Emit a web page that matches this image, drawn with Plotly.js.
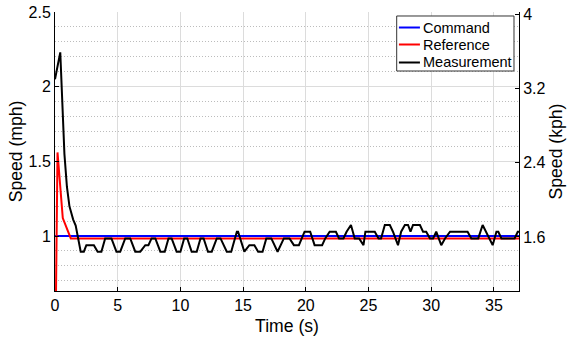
<!DOCTYPE html>
<html>
<head>
<meta charset="utf-8">
<script src="https://cdn.plot.ly/plotly-3.0.1.min.js"></script>
<style>
  html, body { margin: 0; padding: 0; background: #ffffff; }
  #chart { width: 570px; height: 341px; }
</style>
</head>
<body>
<div id="chart"></div>
<script>
// Speed step response: commanded, reference-filtered and measured speed (mph),
// with a secondary kph scale on the right.
const MPH_TO_KPH = 1.609344;

const commandTime  = [0, 37];
const commandSpeed = [1, 1];

const referenceTime  = [0, 0.2, 0.62, 1.26, 37];
const referenceSpeed = [0, 1.56, 1.12, 0.984, 0.984];

const measurementTime = [
  0, 0.42, 0.75, 0.95, 1.15, 1.45, 1.65, 2.05, 2.3, 2.5,
  3.1, 3.4, 3.7, 4.0, 4.5, 4.9, 5.2, 5.6, 6.0, 6.4,
  6.8, 7.2, 7.45, 7.7, 8.0, 8.4, 8.75, 9.05, 9.3, 9.7,
  10.0, 10.3, 10.55, 10.9, 11.3, 11.6, 11.85, 12.2, 12.5, 12.9,
  13.2, 13.7, 14.05, 14.5, 14.6, 15.1, 15.5, 15.9, 16.2, 16.55,
  16.85, 17.25, 17.75, 18.25, 18.7, 19.05, 19.45, 19.9, 20.35, 20.7,
  21.3, 21.55, 21.9, 22.4, 22.65, 23.0, 23.25, 23.6, 23.9, 24.25,
  24.6, 24.75, 25.5, 25.8, 26.0, 26.3, 26.7, 26.95, 27.35, 27.6,
  27.9, 28.15, 28.35, 28.55, 29.1, 29.35, 29.6, 29.9, 30.15, 30.4,
  30.8, 31.1, 31.5, 32.9, 33.2, 33.75, 34.1, 34.35, 34.9, 35.2,
  35.35, 35.6, 36.65, 36.9, 37.0
];
const measurementSpeed = [
  2.05, 2.23, 1.55, 1.33, 1.2, 1.11, 1.07, 0.895, 0.895, 0.939,
  0.939, 0.895, 0.895, 0.984, 0.984, 0.895, 0.895, 0.984, 0.984, 0.895,
  0.895, 0.939, 0.939, 0.984, 0.984, 0.895, 0.895, 0.984, 0.984, 0.895,
  0.895, 0.984, 0.984, 0.895, 0.895, 0.984, 0.984, 0.895, 0.895, 0.984,
  0.984, 0.895, 0.895, 1.029, 1.029, 0.895, 0.939, 0.939, 0.895, 0.895,
  0.984, 0.984, 0.895, 0.984, 0.984, 0.939, 0.939, 1.029, 1.029, 0.939,
  0.939, 0.984, 1.029, 1.029, 0.984, 0.984, 1.029, 1.074, 0.984, 0.984,
  0.939, 1.029, 1.029, 0.984, 0.984, 1.074, 1.074, 1.029, 0.939, 1.029,
  1.074, 1.074, 1.029, 1.074, 1.074, 1.029, 1.029, 0.984, 0.984, 1.029,
  0.939, 0.984, 1.029, 1.029, 0.984, 0.984, 1.074, 1.029, 0.939, 1.029,
  1.029, 0.984, 0.984, 1.029, 1.029
];

const timeTicks = [0, 5, 10, 15, 20, 25, 30, 35];
const mphRange  = [0.632, 2.5];
const kphTicks  = [1.6, 2.4, 3.2, 4];
const kphLabels = ['1.6', '2.4', '3.2', '4'];

const FONT = 'Liberation Sans, Arial, Helvetica, sans-serif';

const series = [
  { name: 'Command',     x: commandTime,     y: commandSpeed,     color: '#0000ff' },
  { name: 'Reference',   x: referenceTime,   y: referenceSpeed,   color: '#ff0000' },
  { name: 'Measurement', x: measurementTime, y: measurementSpeed, color: '#000000' }
];

const traces = series.map(s => ({
  name: s.name, x: s.x, y: s.y, type: 'scatter', mode: 'lines',
  line: { color: s.color, width: 2 }, showlegend: false
}));

// Command expressed in kph on the right-hand axis (transparent; it carries the kph scale)
traces.push({
  name: 'Command (kph)', x: commandTime, y: commandSpeed.map(v => v * MPH_TO_KPH),
  yaxis: 'y2', type: 'scatter', mode: 'lines',
  line: { color: 'rgba(0,0,0,0)', width: 0 }, showlegend: false, hoverinfo: 'skip'
});

// Compact boxed legend in the upper-right corner of the axes
const legendBox = { x0: 0.7364, x1: 0.9892, y0: 0.7885, y1: 0.9857 };
const legendRowY = [0.9444, 0.8835, 0.8190];
const legendLine = { x0: 0.7412, x1: 0.7865 };
const legendTextX = 0.7885;

const shapes = [{
  type: 'rect', xref: 'paper', yref: 'paper', layer: 'above',
  x0: legendBox.x0, x1: legendBox.x1, y0: legendBox.y0, y1: legendBox.y1,
  fillcolor: '#ffffff', line: { color: '#333333', width: 1 }
}];
const annotations = [];
series.forEach((s, i) => {
  shapes.push({
    type: 'line', xref: 'paper', yref: 'paper', layer: 'above',
    x0: legendLine.x0, x1: legendLine.x1, y0: legendRowY[i], y1: legendRowY[i],
    line: { color: s.color, width: 2 }
  });
  annotations.push({
    xref: 'paper', yref: 'paper', x: legendTextX, y: legendRowY[i],
    xanchor: 'left', yanchor: 'middle', showarrow: false,
    text: s.name, font: { family: FONT, size: 14.5, color: '#000000' }
  });
});

const layout = {
  width: 570,
  height: 341,
  margin: { l: 55, r: 51, t: 12, b: 50, pad: 0 },
  paper_bgcolor: '#ffffff',
  plot_bgcolor: '#ffffff',
  font: { family: FONT, size: 16, color: '#000000' },
  showlegend: false,
  shapes: shapes,
  annotations: annotations,
  xaxis: {
    range: [0, 37],
    tickmode: 'array', tickvals: timeTicks,
    ticks: 'inside', ticklen: 4, tickcolor: '#000000', tickwidth: 1,
    showline: true, linecolor: '#000000', linewidth: 1,
    showgrid: true, gridcolor: '#dcdcdc', gridwidth: 1,
    zeroline: false,
    tickfont: { family: FONT, size: 16 },
    title: { text: 'Time (s)', font: { family: FONT, size: 17.6 }, standoff: 6 }
  },
  yaxis: {
    range: mphRange,
    tick0: 0, dtick: 0.5,
    ticks: 'inside', ticklen: 4, tickcolor: '#000000', tickwidth: 1,
    showline: true, linecolor: '#000000', linewidth: 1,
    showgrid: true, gridcolor: '#dcdcdc', gridwidth: 1,
    zeroline: false,
    minor: { tick0: 0, dtick: 0.1, showgrid: true, gridcolor: '#bcbcbc', griddash: '1px,2px', gridwidth: 1, ticks: '' },
    tickfont: { family: FONT, size: 16 },
    title: { text: 'Speed (mph)', font: { family: FONT, size: 17.6 }, standoff: 1 }
  },
  yaxis2: {
    overlaying: 'y', side: 'right', anchor: 'x',
    range: mphRange.map(v => v * MPH_TO_KPH),
    tickmode: 'array', tickvals: kphTicks, ticktext: kphLabels,
    ticks: 'inside', ticklen: 4, tickcolor: '#000000', tickwidth: 1,
    showline: true, linecolor: '#000000', linewidth: 1,
    showgrid: false, zeroline: false,
    tickfont: { family: FONT, size: 16 },
    title: { text: 'Speed (kph)', font: { family: FONT, size: 17.6 }, standoff: 4 }
  }
};

Plotly.newPlot('chart', traces, layout, { displayModeBar: false, staticPlot: true });
</script>
</body>
</html>
